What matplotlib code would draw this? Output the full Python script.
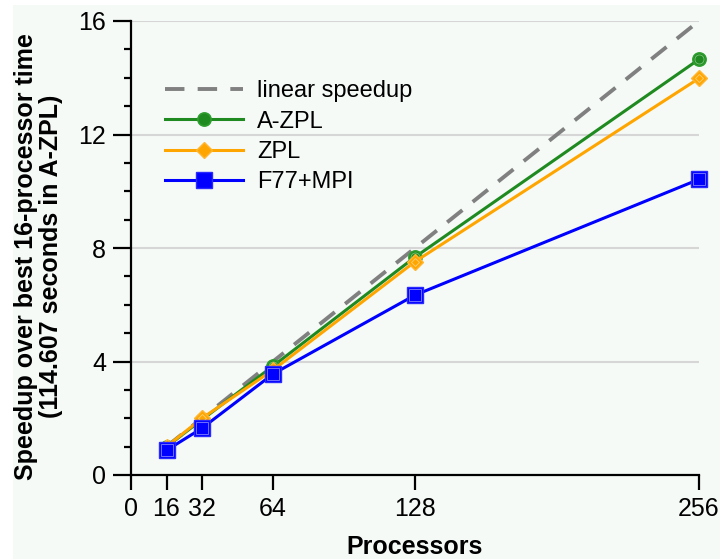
import matplotlib
matplotlib.use("Agg")
import matplotlib.pyplot as plt
from matplotlib.patches import Rectangle
from matplotlib.ticker import MultipleLocator

plt.rcParams['font.family'] = ['Liberation Sans', 'DejaVu Sans']

processors = [16, 32, 64, 128, 256]
linear = [1, 2, 4, 8, 16]
azpl = [1.0, 1.95, 3.84, 7.68, 14.65]
zpl = [1.0, 2.0, 3.7, 7.52, 13.98]
f77 = [0.87, 1.65, 3.56, 6.34, 10.42]
xticks = [0, 16, 32, 64, 128, 256]
yticks = [0, 4, 8, 12, 16]

bg = '#f5faf7'
fig = plt.figure(figsize=(7.2, 5.59), dpi=100, facecolor='white')
fig.patches.append(Rectangle((13/720, 0), 1, 1 - 5/559, transform=fig.transFigure,
                             facecolor=bg, edgecolor='none', zorder=-10))
ax = fig.add_axes([131/720, 1 - 475/559, 568/720, 454/559])
ax.set_facecolor('none')

for y in [4, 8, 12, 16]:
    ax.axhline(y, color='#d6d6d6', lw=1.5, zorder=0)

ax.plot(processors, linear, color='#808080', lw=2.8, dashes=(5.0, 3.4),
        label='linear speedup', zorder=2, clip_on=False)
ax.plot(processors, azpl, color='#1f8a1f', lw=2.2, marker='o', ms=9.5,
        mfc='#1f8a1f', mec='#2e9e2e', mew=1.2, label='A-ZPL', zorder=3, clip_on=False)
ax.plot(processors, azpl, ls='none', marker='o', ms=6.5, mfc='none', mec='#7cc47c',
        mew=0.6, zorder=3.1, clip_on=False)
ax.plot(processors, zpl, color='#ffa500', lw=2.2, marker='D', ms=8,
        mfc='#ffa500', mec='#ffb733', mew=1.0, label='ZPL', zorder=4, clip_on=False)
ax.plot(processors, zpl, ls='none', marker='D', ms=4.5, mfc='none', mec='#ffd27a',
        mew=0.6, zorder=4.1, clip_on=False)
ax.plot(processors, f77, color='#0000ff', lw=2.2, marker='s', ms=11,
        mfc='#0000ff', mec='#2a2aff', mew=1.0, label='F77+MPI', zorder=5, clip_on=False)
ax.plot(processors, f77, ls='none', marker='s', ms=8, mfc='none', mec='#8080ff',
        mew=0.6, zorder=5.1, clip_on=False)

ax.set_xlim(0, 256)
ax.set_ylim(0, 16)
ax.set_xticks(xticks)
ax.set_yticks(yticks)
ax.yaxis.set_minor_locator(MultipleLocator(1))
for s in ['top', 'right']:
    ax.spines[s].set_visible(False)
for s in ['left', 'bottom']:
    ax.spines[s].set_linewidth(1.6)
ax.tick_params(axis='y', which='major', length=13, width=1.6, labelsize=18, pad=5)
ax.tick_params(axis='y', which='minor', length=5, width=1.6)
ax.tick_params(axis='x', which='major', length=11, width=1.6, labelsize=18, pad=5)

ax.set_xlabel('Processors', fontsize=18, fontweight='bold')
ax.xaxis.set_label_coords(0.5, (475 - 535) / 454)
ax.xaxis.label.set_va('top')
ax.set_ylabel('Speedup over best 16-processor time\n(114.607 seconds in A-ZPL)',
              fontsize=18, fontweight='bold', linespacing=1.05)
ax.yaxis.set_label_coords((63 - 131) / 568, 0.482)

leg = ax.legend(loc='upper left', bbox_to_anchor=((172 - 131) / 568 - 0.012, (475 - 80) / 454),
                frameon=False, fontsize=17, handlelength=3.3, handletextpad=0.6,
                labelspacing=0.36, borderaxespad=0, borderpad=0)

fig.savefig('out.png', dpi=100, facecolor='white')
